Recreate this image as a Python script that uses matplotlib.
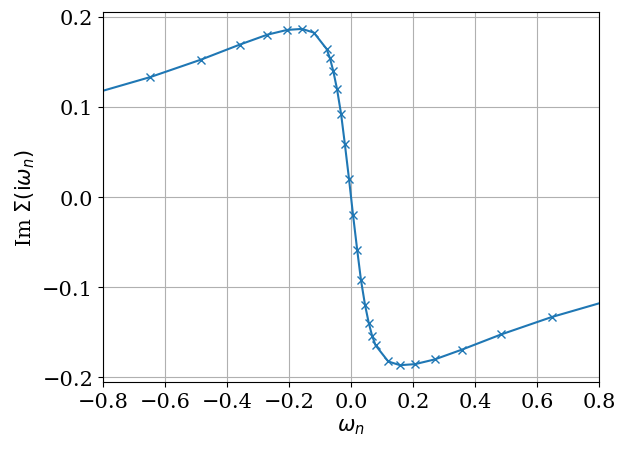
import numpy as np
import matplotlib
matplotlib.use('Agg')
import matplotlib.pyplot as plt

plt.rcParams['font.family'] = 'serif'
plt.rcParams['font.serif'] = ['DejaVu Serif']
plt.rcParams['font.size'] = 15

# positive Matsubara frequencies, mirrored for negative side
w_pos = [0.0065, 0.020, 0.032, 0.045, 0.057, 0.068, 0.079, 0.120, 0.158,
         0.206, 0.270, 0.358, 0.484, 0.647, 0.865]
sigma_pos = [-0.020, -0.059, -0.092, -0.1195, -0.1395, -0.154, -0.1645, -0.1825,
             -0.1866, -0.1855, -0.1802, -0.1693, -0.1525, -0.1332, -0.1115]

w = np.concatenate([-np.array(w_pos[::-1]), np.array(w_pos)])
sigma = np.concatenate([-np.array(sigma_pos[::-1]), np.array(sigma_pos)])

fig, ax = plt.subplots(figsize=(6.26, 4.52), dpi=100)
fig.subplots_adjust(left=0.1645, right=0.957, top=0.971, bottom=0.1527)

ax.plot(w, sigma, 'x-', color='#1f77b4', markersize=6)
ax.set_xlim(-0.8, 0.8)
ax.set_xticks(np.arange(-0.8, 0.81, 0.2))
ax.set_yticks([-0.2, -0.1, 0.0, 0.1, 0.2])
ax.grid(True)
ax.set_xlabel(r'$\omega_n$')
ax.set_ylabel(r'Im $\Sigma(\mathrm{i}\omega_n)$')

plt.savefig('out.png')
